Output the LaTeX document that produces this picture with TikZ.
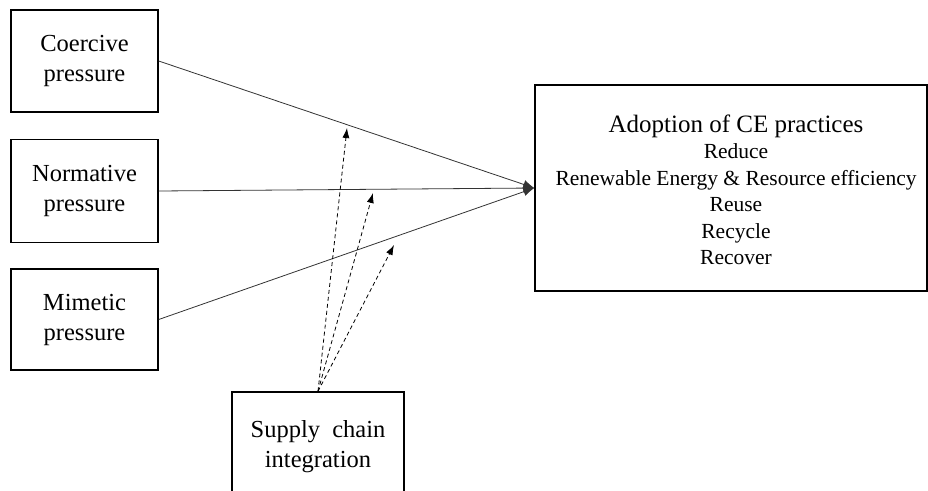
\documentclass[tikz,border=0pt]{standalone}
\usepackage{fontspec}
\setmainfont{Liberation Serif}
\usetikzlibrary{arrows.meta}
\begin{document}
\begin{tikzpicture}[x=1pt, y=-1pt,
    caja/.style={draw, line width=1.4pt, align=center, inner sep=0pt,
        font=\fontsize{24.5}{30}\selectfont},
    flecha/.style={draw=black!80, line width=0.8pt, -{Latex[length=11pt,width=9pt]}},
    flechapunt/.style={line width=0.8pt, dash pattern=on 4pt off 3pt,
        -{Latex[length=10pt,width=7pt]}}]

            % Marco
            \useasboundingbox (0,0) rectangle (928,490);
            \clip (0,0) rectangle (928,490);

            % Presiones
            \node[caja, minimum width=147, minimum height=102] (coer) at (84.5,61) {Coercive\\pressure};
            \node[caja, minimum width=147, minimum height=103] (norm) at (84.5,191) {Normative\\pressure};
            \node[caja, minimum width=147, minimum height=101] (mime) at (84.5,319.5) {Mimetic\\pressure};

            % Practicas CE
            \node[caja, minimum width=392, minimum height=206] (ce) at (731,188) {};
            \node[align=center, font=\fontsize{21.5}{26.5}\selectfont] (cetxt) at (736,190)
                {{\fontsize{25}{26.5}\selectfont Adoption of CE practices}\\Reduce\\
                 Renewable Energy \& Resource efficiency\\Reuse\\Recycle\\Recover};

            % Integracion
            \node[caja, minimum width=172, minimum height=110] (sci) at (318,447) {Supply\ \ chain\\integration};

            % Flechas
            \draw[flecha] (coer.east) -- (ce.west);
            \draw[flecha] (norm.east) -- (ce.west);
            \draw[flecha] (mime.east) -- (ce.west);

            % Moderacion
            \coordinate (m1) at (347,128);
            \coordinate (m2) at (373,193);
            \coordinate (m3) at (394,245);
            \draw[flechapunt] (sci.north) -- (m1);
            \draw[flechapunt] (sci.north) -- (m2);
            \draw[flechapunt] (sci.north) -- (m3);
        \end{tikzpicture}
\end{document}
